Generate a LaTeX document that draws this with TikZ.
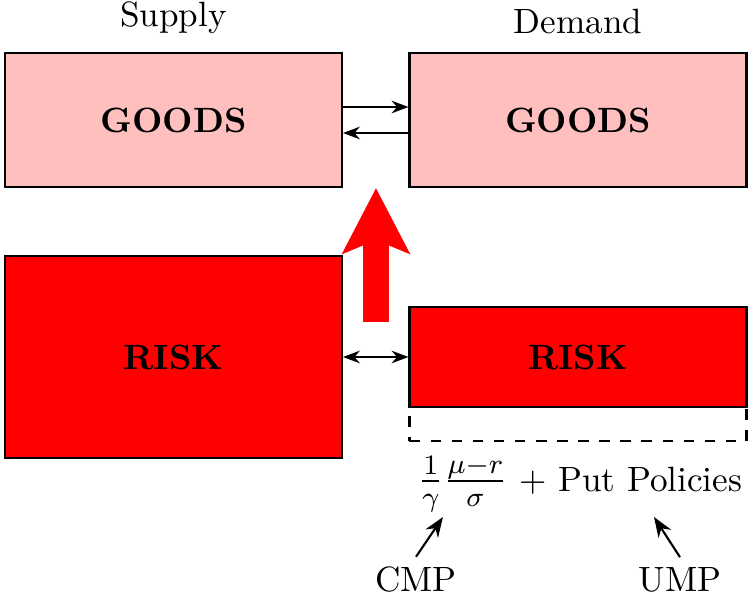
\documentclass[tikz,border=0pt]{standalone}
\usetikzlibrary{positioning,arrows.meta}

\tikzset{
    goodsbox/.style={draw, semithick, fill=red!25, font=\bfseries, minimum width=3.37cm},
    riskbox/.style={draw, semithick, fill=red, font=\bfseries, minimum width=3.37cm},
}

\begin{document}
\begin{tikzpicture}[>=Stealth]

    \useasboundingbox (0,0) rectangle (7.49,-6.00);

    \node[goodsbox, minimum height=1.34cm] (goodsS) at (1.735,-1.20) {GOODS};
    \node[goodsbox, minimum height=1.34cm] (goodsD) at (5.78,-1.20) {GOODS};
    \node[riskbox, minimum height=2.02cm] (riskS) at (1.735,-3.57) {RISK};
    \node[riskbox, minimum height=1.00cm] (riskD) at (5.78,-3.57) {RISK};
    \node[draw, semithick, dashed, minimum width=3.37cm, minimum height=0.34cm] (putbox) at (5.78,-4.24) {};

    \node[above=0.06cm of goodsS] (supply) {Supply};
    \node[above=0.06cm of goodsD] (demand) {Demand};

    \draw[->] ([yshift=0.13cm]goodsS.east) -- ([yshift=0.13cm]goodsD.west);
    \draw[->] ([yshift=-0.13cm]goodsD.west) -- ([yshift=-0.13cm]goodsS.east);
    \draw[<->] (riskS.east |- riskD.west) -- (riskD.west);

    % big arrow up
    \coordinate (uptail) at (3.76,-3.22);
    \coordinate (uptip) at (3.76,-1.88);
    \draw[red, line width=0.26cm, -{Stealth[length=0.65cm, width=0.66cm, inset=0.13cm]}] (uptail) -- (uptip);

    \node (formula) at (5.80,-4.84) {{\large$\frac{1}{\gamma}\frac{\mu-r}{\sigma}$} + Put Policies};

    \node (cmp) at (4.16,-5.80) {CMP};
    \node (ump) at (6.80,-5.80) {UMP};
    \coordinate (cmpto) at (4.43,-5.17);
    \coordinate (umpto) at (6.54,-5.17);
    \draw[->, semithick] ([yshift=-0.02cm]cmp.north) -- (cmpto);
    \draw[->, semithick] ([yshift=-0.02cm]ump.north) -- (umpto);

\end{tikzpicture}
\end{document}
